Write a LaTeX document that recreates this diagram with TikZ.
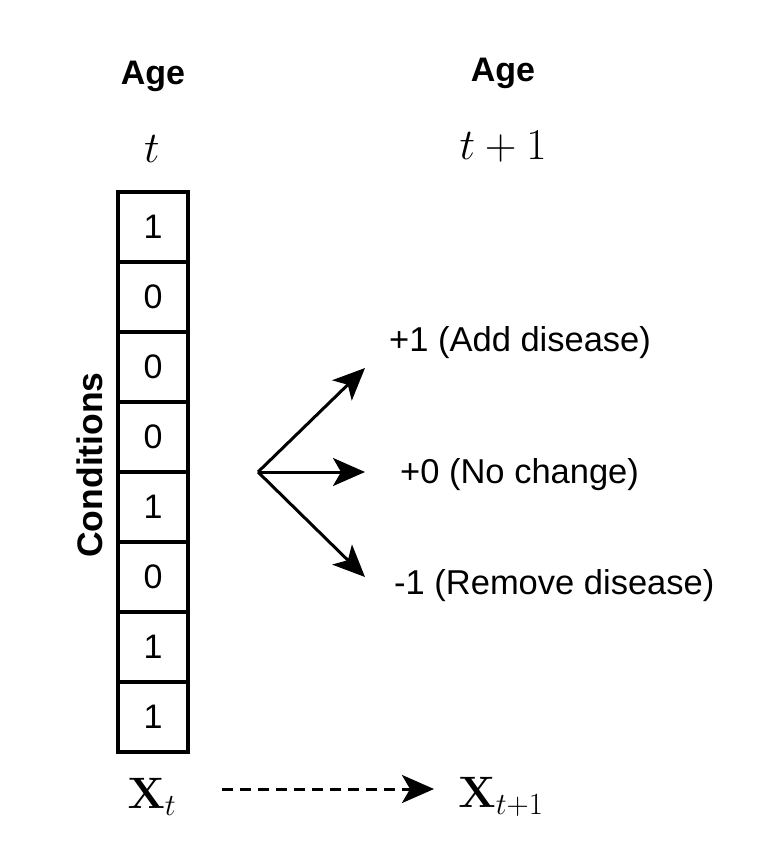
\documentclass[tikz,border=0pt]{standalone}
\usepackage{fix-cm}
\usepackage[no-math]{fontspec}
\setmainfont{Liberation Sans}
\usetikzlibrary{arrows.meta}
\begin{document}
\begin{tikzpicture}[x=1pt,y=-1pt,
  cell/.style={draw, line width=3.2pt, minimum width=70pt, minimum height=70pt, inner sep=0pt, font=\fontsize{34}{38}\selectfont},
  hdr/.style={font=\fontsize{34}{38}\selectfont\bfseries, inner sep=0pt},
  mth/.style={font=\fontsize{44}{50}\selectfont, inner sep=0pt},
  lbl/.style={font=\fontsize{34.5}{38}\selectfont, inner sep=0pt, anchor=west},
  arr/.style={line width=3pt, -{Stealth[length=32pt,width=28pt,inset=8pt]}}
]
\useasboundingbox (0,0) rectangle (772,868);
\node[hdr] (age1) at (153,76) {Age};
\node[hdr] (age2) at (503,73) {Age};
\node[mth] (t1) at (152,149) {$t$};
\node[mth] (t2) at (503,147) {$t+1$};
\foreach \v [count=\i] in {1,0,0,0,1,0,1,1} {
  \node[cell] (c\i) at (153,{227+70*(\i-1)}) {\v};
}
\node[hdr, font=\fontsize{35.5}{38}\selectfont\bfseries, rotate=90] (cond) at (90,465) {Conditions};
\node[mth] (xt) at (152,797) {$\mathbf{X}_t$};
\node[mth] (xt1) at (501,797) {$\mathbf{X}_{t+1}$};
\coordinate (o) at (258,472);
\coordinate (eu) at (365,368);
\coordinate (em) at (365,472);
\coordinate (ed) at (365,577);
\draw[arr] (o) -- (eu);
\draw[arr] (o) -- (em);
\draw[arr] (o) -- (ed);
\node[lbl] (l1) at (389,343) {+1 (Add disease)};
\node[lbl] (l2) at (400,475) {+0 (No change)};
\node[lbl] (l3) at (394,586) {-1 (Remove disease)};
\coordinate (ds) at (222,789);
\coordinate (de) at (434,789);
\draw[line width=3pt, dash pattern=on 11pt off 7pt, -{Stealth[length=32pt,width=28pt,inset=8pt]}] (ds) -- (de);
\end{tikzpicture}
\end{document}
